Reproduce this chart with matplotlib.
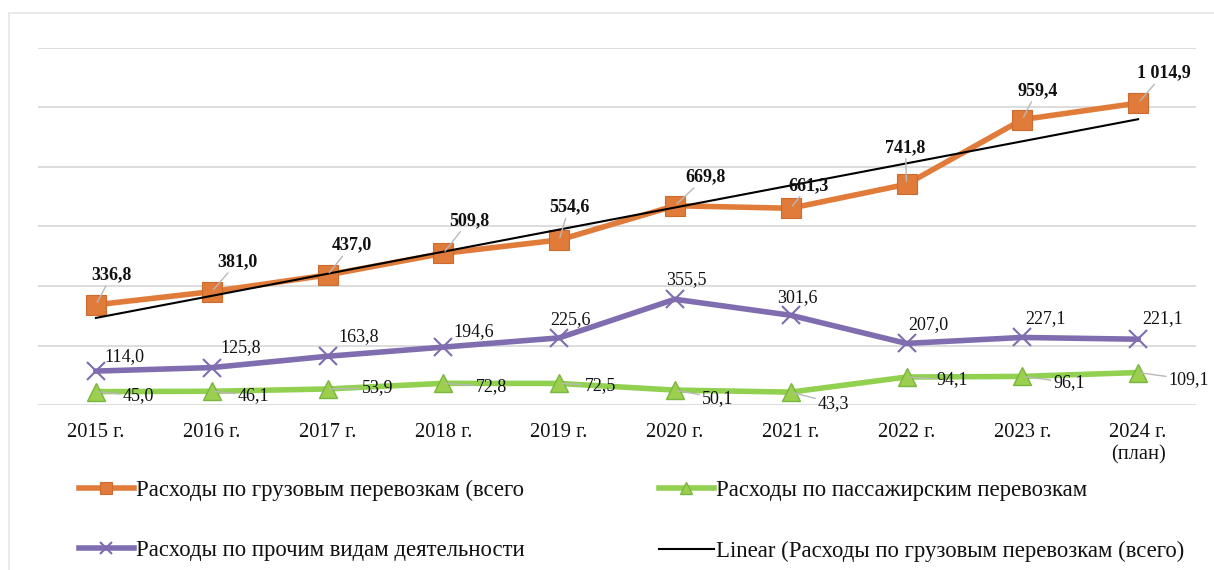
import numpy as np
import matplotlib
matplotlib.use("Agg")
import matplotlib.pyplot as plt
from matplotlib.patches import Rectangle

# ---- data ----
years = ["2015 г.", "2016 г.", "2017 г.", "2018 г.", "2019 г.", "2020 г.",
         "2021 г.", "2022 г.", "2023 г.", "2024 г.\n(план)"]
freight = [336.8, 381.0, 437.0, 509.8, 554.6, 669.8, 661.3, 741.8, 959.4, 1014.9]
passenger = [45.0, 46.1, 53.9, 72.8, 72.5, 50.1, 43.3, 94.1, 96.1, 109.1]
other = [114.0, 125.8, 163.8, 194.6, 225.6, 355.5, 301.6, 207.0, 227.1, 221.1]

freight_labels = ["336,8", "381,0", "437,0", "509,8", "554,6", "669,8", "661,3", "741,8", "959,4", "1 014,9"]
passenger_labels = ["45,0", "46,1", "53,9", "72,8", "72,5", "50,1", "43,3", "94,1", "96,1", "109,1"]
other_labels = ["114,0", "125,8", "163,8", "194,6", "225,6", "355,5", "301,6", "207,0", "227,1", "221,1"]

legend_names = ["Расходы по грузовым перевозкам (всего",
                "Расходы по прочим видам деятельности",
                "Расходы по пассажирским перевозкам",
                "Linear (Расходы по грузовым перевозкам (всего)"]

# ---- label offsets (pixels, dx right, dy up) ----
off_freight = [(16, 30), (26, 30), (24, 30), (26, 33), (10, 33), (31, 29), (18, 23), (-1, 37), (15, 29), (26, 30)]
off_other = [(29, 14), (29, 20), (31, 20), (30, 16), (11, 18), (11, 20), (7, 18), (22, 19), (23, 19), (25, 21)]
off_pass = [(42, -4), (42, -4), (50, 1), (48, -3), (41, -2), (43, -8), (43, -11), (46, -3), (47, -6), (51, -7)]

plt.rcParams['font.family'] = ['Liberation Serif', 'DejaVu Serif']

W, H = 1214, 570
fig = plt.figure(figsize=(W / 100, H / 100), dpi=100)
ax = fig.add_axes([38 / W, 1 - 405 / H, (1196 - 38) / W, (405 - 48) / H])

x = np.arange(len(years))

C_OR = "#E07B3A"
C_OR_E = "#CC6A30"
C_PU = "#7F6DB0"
C_GR = "#92D050"
C_GR_F = "#9CCF4E"
C_GR_E = "#78B640"

l_or, = ax.plot(x, freight, color=C_OR, lw=4.0, marker='s', ms=14,
                mfc=C_OR, mec=C_OR_E, mew=0.8, zorder=4, solid_joinstyle='round')
l_pu, = ax.plot(x, other, color=C_PU, lw=4.0, marker='x', ms=13.5, mew=1.5,
                mec=C_PU, zorder=4, solid_joinstyle='round')
l_gr, = ax.plot(x, passenger, color=C_GR, lw=4.0, marker='^', ms=13.5,
                mfc=C_GR_F, mec=C_GR_E, mew=1.0, zorder=4, solid_joinstyle='round')

coef = np.polyfit(x, freight, 1)
l_tr, = ax.plot(x, np.polyval(coef, x), color='black', lw=1.5, zorder=5)

lead = dict(arrowstyle='-', color='#B8B8B8', lw=1.0, shrinkA=0, shrinkB=2)

for i in x:
    ax.annotate(freight_labels[i], (i, freight[i]), xytext=off_freight[i],
                textcoords='offset pixels', ha='center', va='center',
                fontsize=13, fontweight='bold', color='#111111',
                arrowprops=lead, zorder=6)
    ax.annotate(other_labels[i], (i, other[i]), xytext=off_other[i],
                textcoords='offset pixels', ha='center', va='center',
                fontsize=13, color='#111111', zorder=6)
    ax.annotate(passenger_labels[i], (i, passenger[i]), xytext=off_pass[i],
                textcoords='offset pixels', ha='center', va='center',
                fontsize=13, color='#111111', arrowprops=lead, zorder=6)

ax.set_xlim(-0.5, len(years) - 0.5)
ax.set_ylim(0, 1200)
ax.set_yticks(np.arange(0, 1201, 200))
ax.set_yticklabels([])
ax.tick_params(axis='y', length=0)
ax.grid(axis='y', color='#DADADA', lw=1.3)
ax.set_axisbelow(True)
ax.set_xticks(x)
ax.set_xticklabels(years, fontsize=14.8, color='#111111', linespacing=1.2)
ax.tick_params(axis='x', length=0, pad=13)
for s in ax.spines.values():
    s.set_visible(False)

fig.patches.append(Rectangle((9 / W, -0.1), 1.2, 1 - 13 / H + 0.1, transform=fig.transFigure,
                             fill=False, edgecolor='#E6E6E6', lw=1.2))

leg = fig.legend([l_or, l_pu, l_gr, l_tr], legend_names, ncol=2,
                 loc='upper left', bbox_to_anchor=(79 / W, 1 - 480 / H),
                 frameon=False, fontsize=16.4, handlelength=2.4, handletextpad=0.1,
                 columnspacing=5.9, labelspacing=1.72, borderpad=0, borderaxespad=0,
                 markerscale=0.6)
for t in leg.get_texts():
    t.set_color('#111111')

fig.savefig("out.png", dpi=100)
